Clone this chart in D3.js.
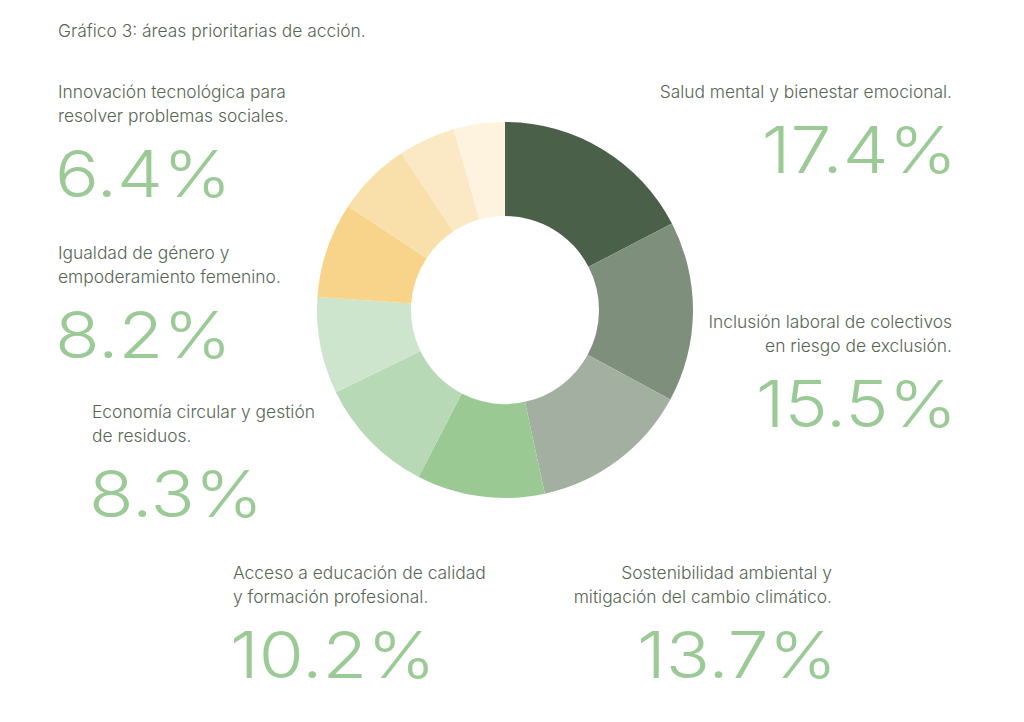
<!DOCTYPE html>
<html>
<head>
<meta charset="utf-8">
<script src="https://cdn.jsdelivr.net/npm/d3@7"></script>
<style>
  body { margin: 0; background: #fff; }
  text { font-family: Inter, "Noto Sans", sans-serif; }
</style>
</head>
<body>
<div id="chart"></div>
<script>
// datos del gráfico (en el sentido de las agujas del reloj desde arriba)
const categories = [
  "Salud mental y bienestar emocional.",
  "Inclusión laboral de colectivos\nen riesgo de exclusión.",
  "Sostenibilidad ambiental y\nmitigación del cambio climático.",
  null,
  "Acceso a educación de calidad\ny formación profesional.",
  "Economía circular y gestión\nde residuos.",
  "Igualdad de género y\nempoderamiento femenino.",
  "Innovación tecnológica para\nresolver problemas sociales.",
  null,
  null
];
const values = [17.4, 15.5, 13.7, 11.0, 10.2, 8.3, 8.2, 6.4, 4.9, 4.4];
const sliceColors = ["#4a6049", "#7e8f7b", "#a3b0a1", "#9bc994", "#b8d9b5",
                     "#cde5cc", "#f8d48a", "#f9e0ab", "#fbe9c5", "#fdf3df"];
const title = "Gráfico 3: áreas prioritarias de acción.";

// posición de cada bloque de texto (x, línea base de la primera línea, alineación)
const labelPos = [
  { x: 952, y: 98,  anchor: "end" },
  { x: 952, y: 328, anchor: "end" },
  { x: 832, y: 579, anchor: "end" },
  null,
  { x: 233, y: 579, anchor: "start" },
  { x: 92,  y: 418, anchor: "start" },
  { x: 58,  y: 259, anchor: "start" },
  { x: 58,  y: 98,  anchor: "start" },
  null,
  null
];

const width = 1024, height = 722;
const cx = 505, cy = 310;
const outerR = 188, innerR = 94;
const textColor = "#566653";
const numColor = "#9bca96";
const fmt = d3.format(".1f");

const svg = d3.select("#chart").append("svg")
  .attr("width", width)
  .attr("height", height);

svg.append("text")
  .attr("x", 58).attr("y", 37)
  .attr("fill", textColor)
  .attr("font-size", 17.4)
  .attr("font-weight", 300)
  .text(title);

const data = values.map((v, i) => ({ value: v, label: categories[i], color: sliceColors[i], pos: labelPos[i] }));

const pie = d3.pie().sort(null).value(d => d.value);
const arc = d3.arc().innerRadius(innerR).outerRadius(outerR);

svg.append("g")
  .attr("transform", `translate(${cx},${cy})`)
  .selectAll("path")
  .data(pie(data))
  .join("path")
  .attr("d", arc)
  .attr("fill", d => d.data.color);

// etiquetas con texto y porcentaje grande
const labelled = data.filter(d => d.label);
const blocks = svg.selectAll("g.label")
  .data(labelled)
  .join("g")
  .attr("class", "label");

blocks.each(function(d) {
  const g = d3.select(this);
  const lines = d.label.split("\n");
  const t = g.append("text")
    .attr("text-anchor", d.pos.anchor)
    .attr("fill", textColor)
    .attr("font-size", 17.4)
    .attr("font-weight", 300);
  lines.forEach((line, k) => {
    t.append("tspan").attr("x", d.pos.x).attr("y", d.pos.y + k * 24).text(line);
  });
  const numY = d.pos.y + (lines.length - 1) * 24 + 75;
  const sx = 1.14;
  const nx = d.pos.anchor === "end" ? d.pos.x + 5 : d.pos.x - 3;
  g.append("text")
    .attr("transform", `translate(${nx},${numY}) scale(${sx},1)`)
    .attr("text-anchor", d.pos.anchor)
    .attr("fill", numColor)
    .attr("font-family", "Lato, sans-serif")
    .attr("font-weight", 300)
    .attr("font-size", 64)
    .text(fmt(d.value) + "%");
});
</script>
</body>
</html>
